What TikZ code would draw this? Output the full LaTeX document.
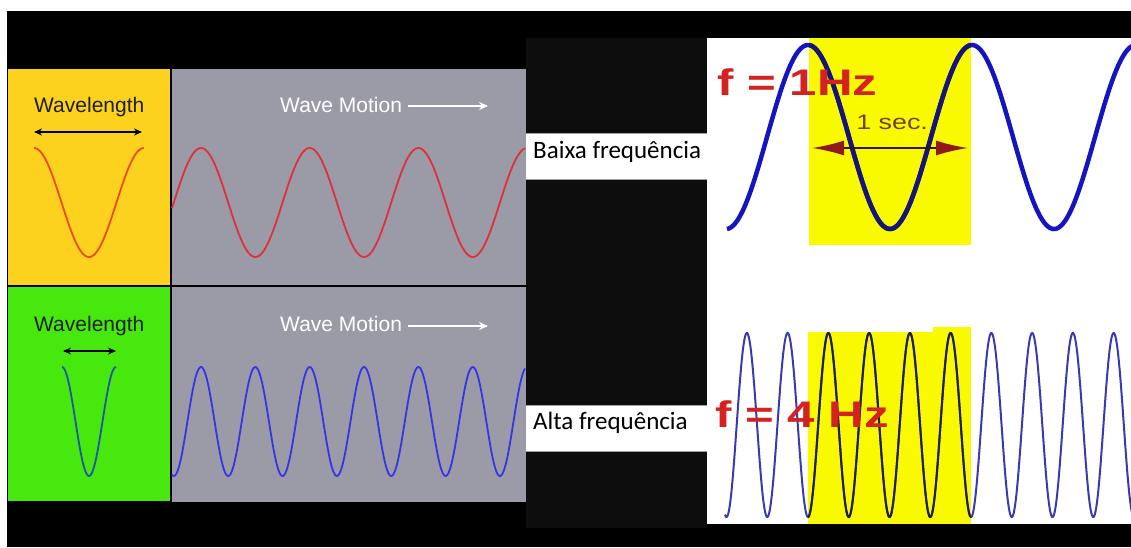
\documentclass[tikz,border=0pt]{standalone}
\usepackage{fontspec}
\setmainfont{Liberation Sans}
\newfontfamily\calib{Carlito}
\usetikzlibrary{arrows.meta}
\definecolor{panelyellow}{HTML}{FDD21E}
\definecolor{panelgray}{HTML}{9B9AA7}
\definecolor{panelgreen}{HTML}{47E80E}
\definecolor{darkfill}{HTML}{0D0D0D}
\definecolor{wavered}{HTML}{E0303A}
\definecolor{waveorange}{HTML}{EE4A14}
\definecolor{waveblue}{HTML}{3535E8}
\definecolor{wavegreenblue}{HTML}{2255A5}
\definecolor{hiyellow}{HTML}{F9F900}
\definecolor{thickblue}{HTML}{1414C0}
\definecolor{thickdark}{HTML}{14147A}
\definecolor{thinblue}{HTML}{3A3AB0}
\definecolor{thindark}{HTML}{1E1E50}
\definecolor{hzred}{HTML}{D42222}
\definecolor{secred}{HTML}{8E1A1A}
\definecolor{secline}{HTML}{3A1010}
\definecolor{sectext}{HTML}{74401E}
\definecolor{boxedge}{HTML}{A0A0A0}
\begin{document}
\begin{tikzpicture}[x=1pt,y=-1pt,
  wave/.style={line width=1.8pt,smooth},
  lbl/.style={font=\fontsize{21}{25}\selectfont,inner sep=0pt,anchor=base west},
  motion/.style={lbl,text=white},
  wlarrow/.style={line width=1.8pt,{Stealth[length=8pt,width=7pt]}-{Stealth[length=8pt,width=7pt]}},
  warrow/.style={line width=1.8pt,white,-{Stealth[length=9pt,width=8pt]}},
  freqlbl/.style={font=\calib\fontsize{25}{30}\selectfont,inner sep=0pt,anchor=base west},
  hzlbl/.style={font=\bfseries\fontsize{37}{40}\selectfont,text=hzred,inner sep=0pt,anchor=base west,xscale=1.33}
]
\useasboundingbox (0,0) rectangle (1131,547);
\fill[white] (0,0) rectangle (1131,547);
\fill[black] (7,11) rectangle (1131,547);
% left panels
\fill[panelyellow] (8,69) rectangle (169.5,284.5);
\fill[panelgray] (171.5,69) rectangle (526,284.5);
\fill[panelgreen] (8,287) rectangle (169.5,500.5);
\fill[panelgray] (171.5,287) rectangle (526,501.5);
% middle dark area
\fill[darkfill] (526,38) rectangle (707,528);
% label boxes
\fill[white] (526,133) rectangle (707,179);
\draw[boxedge,line width=1pt] (526,133) -- (707,133) (526,179) -- (707,179);
\fill[white] (526,405) rectangle (707,451);
\draw[boxedge,line width=1pt] (526,405) -- (707,405) (526,451) -- (707,451);
% right white region
\fill[white] (707,38) rectangle (1131,524);
\fill[hiyellow] (809,38) rectangle (971,245);
\fill[hiyellow] (808,332) rectangle (933,524);
\fill[hiyellow] (933,327) rectangle (971,524);

% left waves
\draw[wave,waveorange,domain=34:144,samples=80] plot (\x,{202.5-54.5*cos((\x-34)/110*360)});
\draw[wave,wavered,domain=172:525,samples=240] plot (\x,{202.5-54.5*cos((\x-201)/108.7*360)});
\draw[wave,wavegreenblue,domain=62:116,samples=60] plot (\x,{421.5-54.5*cos((\x-62)/54*360)});
\draw[wave,waveblue,domain=172:525,samples=360] plot (\x,{421.5-54.5*cos((\x-201)/54.35*360)});

% left texts and arrows
\node[lbl,text=black!88] (wl1) at (34,112) {Wavelength};
\node[motion] (wm1) at (280,112.5) {Wave Motion};
\node[lbl,text=black!88] (wl2) at (34,331) {Wavelength};
\node[motion] (wm2) at (280,331.5) {Wave Motion};
\coordinate (a1l) at (34,132); \coordinate (a1r) at (142,132);
\coordinate (a2l) at (63,351); \coordinate (a2r) at (116,351);
\coordinate (m1s) at (408,106); \coordinate (m1e) at (488,106);
\coordinate (m2s) at (408,326); \coordinate (m2e) at (488,326);
\draw[wlarrow] (a1l) -- (a1r);
\draw[wlarrow] (a2l) -- (a2r);
\draw[warrow] (m1s) -- (m1e);
\draw[warrow] (m2s) -- (m2e);

% frequency labels
\node[freqlbl] (baixa) at (533,158) {Baixa frequência};
\node[freqlbl] (alta) at (533,429) {Alta frequência};

% right waves
\begin{scope}
\clip (707,38) rectangle (1131,524);
\draw[line width=4.5pt,thickblue,smooth,domain=727:1134,samples=260] plot (\x,{137-92*cos((\x-808)/164*360)});
\draw[line width=2pt,thinblue,smooth,domain=725:1134,samples=700] plot (\x,{425+92*cos((\x-808)/40.75*360)});
\end{scope}
\begin{scope}
\clip (809,38) rectangle (971,245);
\draw[line width=4.5pt,thickdark,smooth,domain=800:980,samples=160] plot (\x,{137-92*cos((\x-808)/164*360)});
\end{scope}
\begin{scope}
\clip (808,327) rectangle (971,524);
\draw[line width=2pt,thindark,smooth,domain=800:980,samples=400] plot (\x,{425+92*cos((\x-808)/40.75*360)});
\end{scope}

% right labels
\node[hzlbl] (f1) at (717,95) {f = 1Hz};
\node[hzlbl] (f4) at (715,427) {f = 4 Hz};
\node[font=\fontsize{21}{24}\selectfont,text=sectext,inner sep=0pt,anchor=base west,xscale=1.28] (sec) at (856,129) {1 sec.};
\coordinate (sl) at (812,148); \coordinate (sr) at (968,148);
\draw[line width=2pt,secline,{Latex[length=32pt,width=15pt,color=secred]}-{Latex[length=32pt,width=15pt,color=secred]}] (sl) -- (sr);
\end{tikzpicture}
\end{document}
